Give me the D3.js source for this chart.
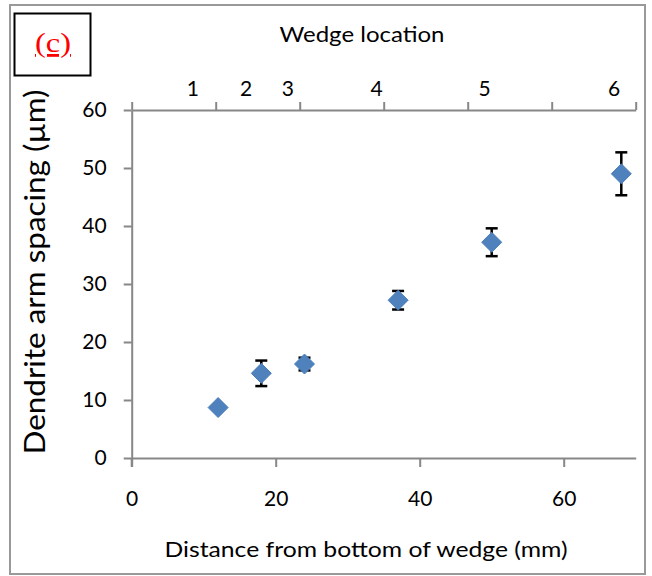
<!DOCTYPE html>
<html><head><meta charset="utf-8">
<script src="https://cdn.jsdelivr.net/npm/d3@7/dist/d3.min.js"></script>
<style>body{margin:0;background:#fff}svg{display:block}</style>
</head><body>
<script>
const distance = [12, 18, 24, 37, 50, 68];
const spacing = [8.7, 14.6, 16.2, 27.2, 37.2, 49.0];
const errorBar = [0.4, 2.2, 1.1, 1.6, 2.4, 3.7];
const wedgeLabels = ["1", "2", "3", "4", "5", "6"];
const wedgePositions = [8.5, 15.9, 21.7, 34, 49, 67];
const xTicks = [0, 20, 40, 60];
const yTicks = [0, 10, 20, 30, 40, 50, 60];

const W = 652, H = 576;
const svg = d3.select("body").append("svg").attr("width", W).attr("height", H);
const font = "Lato, 'Open Sans', sans-serif";
const axisColor = "#878787";

// outer frame
svg.append("rect").attr("x", 10).attr("y", 5).attr("width", 635).attr("height", 569)
  .attr("fill", "none").attr("stroke", "#999").attr("stroke-width", 2);

const x = d3.scaleLinear().domain([0, 70]).range([131.7, 635.7]);
const y = d3.scaleLinear().domain([0, 60]).range([458, 110]);

const xAxis = svg.append("g").attr("transform", `translate(0,${y(0)})`)
  .call(d3.axisBottom(x).tickValues(xTicks).tickSize(9).tickSizeOuter(0).tickPadding(24));
const yAxis = svg.append("g").attr("transform", `translate(${x(0)},0)`)
  .call(d3.axisLeft(y).tickValues(yTicks).tickSize(8).tickSizeOuter(0).tickPadding(17));
const topTicks = d3.range(7).map(i => i * 70 / 6);
const topAxis = svg.append("g").attr("transform", `translate(0,${y(60)})`)
  .call(d3.axisTop(x).tickValues(topTicks).tickSize(8).tickSizeOuter(0).tickFormat(""));

[xAxis, yAxis, topAxis].forEach(g => {
  g.select(".domain").attr("stroke", axisColor).attr("stroke-width", 2);
  g.selectAll(".tick line").attr("stroke", axisColor).attr("stroke-width", 2);
  g.selectAll(".tick text").attr("fill", "#000").style("font-family", font).style("font-size", "21px");
});
svg.append("line").attr("x1", x(0)).attr("x2", x(0)).attr("y1", y(0)).attr("y2", y(0) + 9)
  .attr("stroke", axisColor).attr("stroke-width", 2);

// wedge labels
svg.append("g").selectAll("text").data(wedgeLabels).join("text")
  .attr("x", (d, i) => x(wedgePositions[i])).attr("y", 96)
  .attr("text-anchor", "middle").style("font-family", font).style("font-size", "21px")
  .text(d => d);

svg.append("text").attr("x", 362).attr("y", 42).attr("text-anchor", "middle")
  .attr("textLength", 165).attr("lengthAdjust", "spacingAndGlyphs")
  .style("font-family", font).style("font-size", "22px").text("Wedge location");

svg.append("text").attr("x", 366).attr("y", 557).attr("text-anchor", "middle")
  .attr("textLength", 403).attr("lengthAdjust", "spacingAndGlyphs")
  .style("font-family", font).style("font-size", "22px").text("Distance from bottom  of wedge (mm)");

svg.append("text").attr("transform", `translate(45,272) rotate(-90)`).attr("text-anchor", "middle")
  .attr("textLength", 365).attr("lengthAdjust", "spacingAndGlyphs")
  .style("font-family", font).style("font-size", "28px").text("Dendrite arm spacing (µm)");

// error bars
const eb = svg.append("g");
distance.forEach((d, i) => {
  const cx = x(d), top = y(spacing[i] + errorBar[i]), bot = y(spacing[i] - errorBar[i]);
  eb.append("line").attr("x1", cx).attr("x2", cx).attr("y1", top).attr("y2", bot).attr("stroke", "#000").attr("stroke-width", 2.5);
  [top, bot].forEach(v => eb.append("line").attr("x1", cx - 6).attr("x2", cx + 6).attr("y1", v).attr("y2", v).attr("stroke", "#000").attr("stroke-width", 2.5));
});

// diamonds
svg.append("g").selectAll("path").data(distance).join("path")
  .attr("transform", (d, i) => `translate(${x(d)},${y(spacing[i])})`)
  .attr("d", "M0,-10L10,0L0,10L-10,0Z")
  .attr("fill", "#4F81BD").attr("stroke", "#4A7EBB").attr("stroke-width", 1);

// (c) label box
svg.append("rect").attr("x", 14.5).attr("y", 13.5).attr("width", 76).attr("height", 62)
  .attr("fill", "#fff").attr("stroke", "#000").attr("stroke-width", 2);
svg.append("text").attr("x", 53).attr("y", 52).attr("text-anchor", "middle")
  .attr("textLength", 36).attr("lengthAdjust", "spacingAndGlyphs")
  .style("font-family", "'Liberation Serif', 'Times New Roman', serif").style("font-size", "28px")
  .attr("fill", "#ff0000").attr("text-decoration", "underline").text("(c)");
</script>
</body></html>
